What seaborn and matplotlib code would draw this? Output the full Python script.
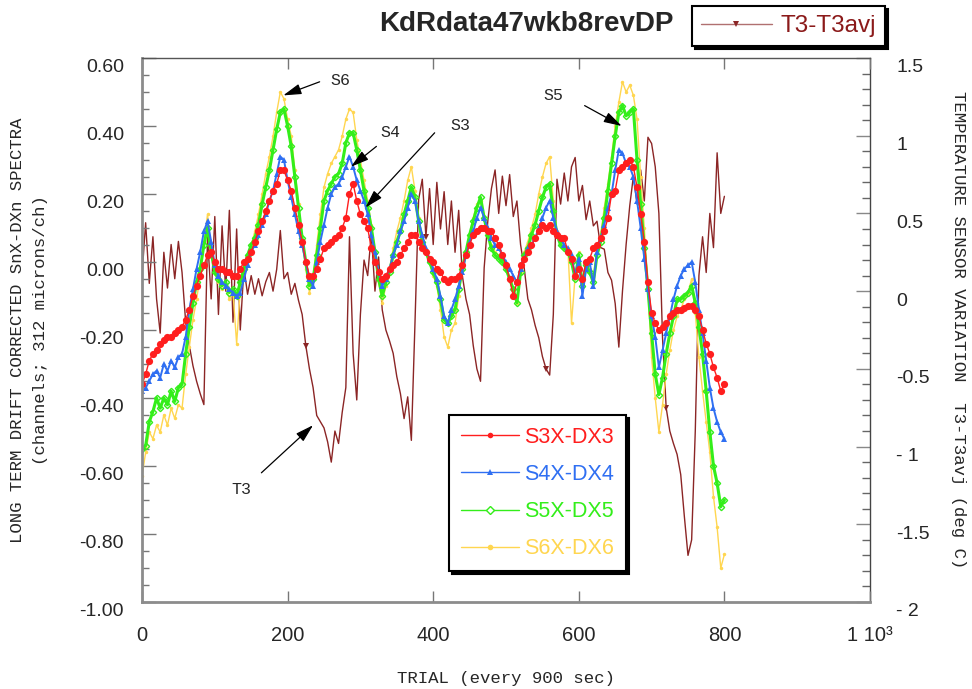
import numpy as np
import pandas as pd
import seaborn as sns
import matplotlib.pyplot as plt
from matplotlib.lines import Line2D
from matplotlib.ticker import MultipleLocator
from matplotlib.transforms import ScaledTranslation

# trial number (every 5th trial)
trial = np.arange(0, 805, 5)

# S3X-DX3 (left axis, channels)
s3 = [-0.36, -0.33, -0.29, -0.27, -0.26, -0.24, -0.23, -0.22, -0.22, -0.21,
      -0.20, -0.19, -0.17, -0.14, -0.10, -0.07, -0.04, -0.01, 0.02, 0.03,
      0.00, -0.02, -0.02, -0.03, -0.03, -0.04, -0.04, -0.02, 0.00, 0.01,
      0.03, 0.06, 0.09, 0.12, 0.15, 0.18, 0.21, 0.23, 0.27, 0.27,
      0.24, 0.21, 0.16, 0.11, 0.06, 0.00, -0.04, -0.04, -0.02, 0.01,
      0.04, 0.05, 0.06, 0.07, 0.08, 0.10, 0.13, 0.20, 0.23, 0.18,
      0.14, 0.12, 0.10, 0.04, 0.00, -0.03, -0.05, -0.04, -0.02, -0.01,
      0.00, 0.02, 0.04, 0.06, 0.08, 0.08, 0.06, 0.04, 0.03, 0.01,
      0.00, -0.02, -0.03, -0.05, -0.06, -0.05, -0.05, -0.04, -0.01, 0.02,
      0.05, 0.08, 0.09, 0.10, 0.10, 0.09, 0.09, 0.07, 0.05, 0.02,
      -0.01, -0.05, -0.10, -0.06, -0.01, 0.01, 0.03, 0.05, 0.07, 0.09,
      0.11, 0.10, 0.11, 0.09, 0.08, 0.07, 0.07, 0.03, 0.01, -0.04,
      -0.02, -0.05, 0.00, 0.01, 0.04, 0.05, 0.07, 0.09, 0.13, 0.20,
      0.21, 0.27, 0.28, 0.29, 0.30, 0.28, 0.22, 0.14, 0.06, -0.06,
      -0.15, -0.18, -0.20, -0.19, -0.18, -0.16, -0.15, -0.14, -0.14, -0.135,
      -0.13, -0.13, -0.14, -0.16, -0.20, -0.24, -0.27, -0.31, -0.34, -0.38,
      -0.36]

# S4X-DX4
s4 = [-0.38, -0.37, -0.35, -0.33, -0.32, -0.34, -0.30, -0.32, -0.29, -0.31,
      -0.28, -0.27, -0.22, -0.14, -0.08, -0.02, 0.03, 0.09, 0.12, 0.06,
      -0.01, -0.04, -0.06, -0.07, -0.08, -0.09, -0.10, -0.09, -0.05, -0.01,
      0.03, 0.05, 0.08, 0.11, 0.14, 0.18, 0.21, 0.26, 0.31, 0.30,
      0.24, 0.19, 0.14, 0.09, 0.05, 0.00, -0.05, -0.07, 0.00, 0.06,
      0.11, 0.16, 0.20, 0.22, 0.23, 0.25, 0.28, 0.31, 0.28, 0.24,
      0.21, 0.18, 0.14, 0.08, 0.03, -0.03, -0.07, -0.05, -0.02, 0.02,
      0.05, 0.09, 0.12, 0.16, 0.20, 0.18, 0.12, 0.08, 0.04, 0.01,
      -0.02, -0.05, -0.10, -0.16, -0.18, -0.14, -0.11, -0.07, -0.03, 0.02,
      0.06, 0.09, 0.13, 0.16, 0.13, 0.10, 0.07, 0.05, 0.04, 0.02,
      0.00, -0.02, -0.04, -0.06, -0.02, 0.01, 0.04, 0.05, 0.07, 0.10,
      0.13, 0.16, 0.18, 0.13, 0.09, 0.07, 0.05, 0.04, 0.02, -0.04,
      0.01, -0.10, -0.02, 0.00, -0.07, 0.03, 0.07, 0.11, 0.16, 0.20,
      0.27, 0.33, 0.32, 0.29, 0.28, 0.25, 0.18, 0.10, 0.01, -0.08,
      -0.16, -0.22, -0.31, -0.26, -0.21, -0.16, -0.11, -0.07, -0.04, -0.02,
      -0.01, 0.00, -0.06, -0.14, -0.21, -0.29, -0.37, -0.43, -0.47, -0.50,
      -0.52]

# S5X-DX5
s5 = [-0.55, -0.54, -0.47, -0.44, -0.40, -0.43, -0.40, -0.42, -0.38, -0.41,
      -0.37, -0.36, -0.27, -0.19, -0.12, -0.06, -0.02, 0.05, 0.10, 0.03,
      -0.03, -0.05, -0.07, -0.06, -0.09, -0.08, -0.10, -0.06, -0.02, 0.02,
      0.05, 0.07, 0.11, 0.17, 0.22, 0.27, 0.33, 0.39, 0.44, 0.45,
      0.40, 0.34, 0.25, 0.16, 0.07, 0.00, -0.07, -0.05, 0.02, 0.10,
      0.18, 0.21, 0.23, 0.25, 0.26, 0.29, 0.35, 0.38, 0.38, 0.33,
      0.27, 0.21, 0.16, 0.10, 0.03, -0.05, -0.10, -0.06, -0.03, 0.02,
      0.06, 0.09, 0.14, 0.18, 0.22, 0.19, 0.12, 0.06, 0.03, 0.00,
      -0.03, -0.06, -0.11, -0.17, -0.18, -0.16, -0.14, -0.08, -0.02, 0.03,
      0.08, 0.12, 0.16, 0.19, 0.13, 0.08, 0.04, 0.02, 0.01, 0.00,
      -0.02, -0.05, -0.08, -0.12, -0.03, 0.02, 0.04, 0.08, 0.11, 0.15,
      0.19, 0.22, 0.23, 0.15, 0.08, 0.05, 0.04, 0.03, 0.00, -0.05,
      0.02, -0.07, -0.01, -0.03, -0.06, 0.02, 0.06, 0.13, 0.21, 0.29,
      0.37, 0.44, 0.46, 0.43, 0.44, 0.45, 0.30, 0.17, 0.04, -0.08,
      -0.21, -0.33, -0.39, -0.34, -0.27, -0.21, -0.16, -0.11, -0.11, -0.10,
      -0.09, -0.07, -0.12, -0.19, -0.27, -0.38, -0.50, -0.60, -0.65, -0.72,
      -0.70]

# S6X-DX6
s6 = [-0.63, -0.56, -0.50, -0.52, -0.48, -0.50, -0.45, -0.48, -0.43, -0.46,
      -0.42, -0.43, -0.33, -0.25, -0.17, -0.11, -0.04, 0.06, 0.14, 0.04,
      -0.03, -0.06, -0.08, -0.07, -0.11, -0.09, -0.24, -0.08, -0.02, 0.02,
      0.05, 0.09, 0.14, 0.20, 0.26, 0.31, 0.37, 0.44, 0.50, 0.48,
      0.42, 0.37, 0.27, 0.17, 0.06, -0.02, -0.09, -0.05, 0.05, 0.14,
      0.22, 0.26, 0.29, 0.31, 0.33, 0.37, 0.42, 0.45, 0.44, 0.36,
      0.30, 0.24, 0.18, 0.11, 0.03, -0.06, -0.12, -0.07, -0.02, 0.04,
      0.09, 0.13, 0.18, 0.24, 0.28, 0.21, 0.13, 0.07, 0.03, 0.00,
      -0.04, -0.07, -0.14, -0.22, -0.25, -0.20, -0.18, -0.10, -0.02, 0.03,
      0.08, 0.13, 0.17, 0.18, 0.13, 0.08, 0.05, 0.03, 0.02, 0.00,
      -0.02, -0.05, -0.08, -0.12, -0.03, 0.03, 0.06, 0.10, 0.14, 0.20,
      0.25, 0.29, 0.31, 0.18, 0.09, 0.06, 0.04, 0.04, -0.18, -0.04,
      0.03, -0.06, 0.00, -0.02, -0.05, 0.04, 0.08, 0.16, 0.23, 0.31,
      0.40, 0.47, 0.53, 0.50, 0.52, 0.49, 0.42, 0.25, 0.10, -0.08,
      -0.28, -0.40, -0.50, -0.42, -0.33, -0.26, -0.20, -0.16, -0.14, -0.11,
      -0.09, -0.05, -0.15, -0.28, -0.38, -0.47, -0.56, -0.69, -0.78, -0.90,
      -0.86]

# T3-T3avj (right axis, deg C)
t3 = [0.10, 0.44, 0.05, 0.35, -0.05, -0.27, 0.25, 0.02, 0.30, 0.08,
      0.32, 0.12, -0.20, -0.35, -0.48, -0.58, -0.66, -0.73, 0.35, -0.05,
      0.48, -0.15, 0.42, 0.00, 0.52, -0.20, 0.40, -0.25, 0.15, -0.02,
      0.10, -0.02, 0.08, -0.03, 0.06, 0.12, 0.00, 0.14, 0.39, 0.08,
      0.12, -0.02, 0.05, -0.06, -0.15, -0.35, -0.50, -0.62, -0.80, -0.84,
      -0.88, -0.97, -1.10, -0.90, -0.98, -0.78, -0.62, 0.35, -0.40, -0.70,
      -0.15, 0.20, 0.10, 0.37, 0.00, 0.22, -0.12, -0.25, -0.32, -0.40,
      -0.55, -0.66, -0.82, -0.68, -0.96, -0.20, 0.59, 0.72, 0.35, 0.66,
      0.30, 0.70, 0.40, 0.64, 0.30, 0.58, 0.25, 0.52, 0.10, -0.05,
      -0.15, -0.35, -0.50, -0.58, 0.15, 0.45, 0.66, 0.78, 0.50, 0.74,
      0.55, 0.75, 0.48, 0.58, 0.30, 0.15, -0.05, -0.12, -0.22, -0.30,
      -0.42, -0.50, -0.54, -0.15, 0.72, 0.56, 0.76, 0.58, 0.80, 0.86,
      0.58, 0.68, 0.46, 0.58, 0.42, 0.45, 0.28, 0.27, 0.12, 0.07,
      -0.08, -0.36, 0.00, 0.30, 0.55, 0.74, 0.56, 0.78, 0.58, 0.99,
      0.95, 0.80, 0.50, -0.30, -0.75, -0.90, -0.98, -1.05, -1.18, -1.45,
      -1.70, -1.60, -0.90, 0.10, 0.35, 0.12, 0.50, 0.28, 0.89, 0.50,
      0.61]

series_names = ['S3X-DX3', 'S4X-DX4', 'S5X-DX5', 'S6X-DX6']
t3_name = 'T3-T3avj'

df = pd.DataFrame({'trial': trial, 'S3X-DX3': s3, 'S4X-DX4': s4,
                   'S5X-DX5': s5, 'S6X-DX6': s6, 'T3-T3avj': t3})

c3, c4, c5, c6, ct = '#ff1e1e', '#2f6ff2', '#33ee1a', '#ffd650', '#8b2525'

sns.set_style('ticks')
plt.rcParams['font.family'] = ['Liberation Sans', 'DejaVu Sans']
mono = ['Liberation Mono', 'DejaVu Sans Mono']

fig = plt.figure(figsize=(9.72, 6.89), dpi=100)
ax = fig.add_axes([142 / 972, 1 - 602 / 689, 728 / 972, 544 / 689])
ax2 = ax.twinx()
ax.set_zorder(ax2.get_zorder() + 1)
ax.patch.set_visible(False)

# temperature on the right axis (behind)
sns.lineplot(data=df, x='trial', y='T3-T3avj', ax=ax2, color=ct, lw=1.0,
             marker='v', markersize=4, markevery=(12, 33),
             markeredgecolor=ct, markeredgewidth=0)

# drift series on the left axis
sns.lineplot(data=df, x='trial', y='S6X-DX6', ax=ax, color=c6, lw=1.0,
             marker='o', markersize=2.5, markeredgewidth=0)
sns.lineplot(data=df, x='trial', y='S5X-DX5', ax=ax, color=c5, lw=2.2,
             marker='D', markersize=3.2, markerfacecolor='none',
             markeredgecolor=c5, markeredgewidth=1)
sns.lineplot(data=df, x='trial', y='S4X-DX4', ax=ax, color=c4, lw=1.4,
             marker='^', markersize=4.4, markeredgewidth=0)
sns.lineplot(data=df, x='trial', y='S3X-DX3', ax=ax, color=c3, lw=1.0,
             marker='o', markersize=5.2, markeredgewidth=0)

ax.set_xlim(0, 1000)
ax.set_ylim(-1.0, 0.6)
ax2.set_ylim(-2.0, 1.5)

ax.set_xticks([0, 200, 400, 600, 800, 1000])
ax.set_xticklabels(['0', '200', '400', '600', '800', '1 10³'], fontsize=14.5,
                   family=['Liberation Sans Narrow', 'Liberation Sans'])
ax.set_yticks([0.6, 0.4, 0.2, 0.0, -0.2, -0.4, -0.6, -0.8, -1.0])
ax.set_yticklabels(['0.60', '0.40', '0.20', '0.00', '-0.20', '-0.40', '-0.60',
                    '-0.80', '-1.00'], fontsize=14)
ax.yaxis.set_minor_locator(MultipleLocator(0.05))
ax2.set_yticks([1.5, 1.0, 0.5, 0.0, -0.5, -1.0, -1.5, -2.0])
ax2.set_yticklabels(['1.5', '1', '0.5', '0', '-0.5', '- 1', '-1.5', '- 2'],
                    fontsize=14)
ax2.yaxis.set_minor_locator(MultipleLocator(0.1))

ax.tick_params(axis='x', which='major', direction='in', top=True, bottom=True,
               length=8, width=1, color='#777777', pad=17)
ax.tick_params(axis='y', which='major', direction='in', left=True, right=False,
               length=10, width=1, color='#777777', pad=13)
ax.tick_params(axis='y', which='minor', direction='in', left=True, right=False,
               length=5, width=1, color='#777777')
ax2.tick_params(axis='y', which='major', direction='in', length=10, width=1,
                color='#888888', pad=19)
ax2.tick_params(axis='y', which='minor', direction='in', length=6, width=1,
                color='#666666')

# labels sit a little below their ticks in the original
down = ScaledTranslation(0, -8 / 100, fig.dpi_scale_trans)
for lab in ax.get_yticklabels() + ax2.get_yticklabels():
    lab.set_transform(lab.get_transform() + down)

ax.set_xlabel('')
ax.set_ylabel('')
ax2.set_ylabel('')

for side in ['left', 'bottom']:
    ax.spines[side].set_color('#8c8c8c')
    ax.spines[side].set_linewidth(2)
ax.spines['top'].set_color('#555555')
ax.spines['top'].set_linewidth(1)
ax.spines['right'].set_visible(False)
for side in ['left', 'bottom', 'top']:
    ax2.spines[side].set_visible(False)
ax2.spines['right'].set_color('#444444')
ax2.spines['right'].set_linewidth(1)

# axis titles
fig.text(18 / 972, 1 - 330 / 689, 'LONG TERM DRIFT CORRECTED SnX-DXn SPECTRA',
         rotation=90, ha='center', va='center', family=mono, fontsize=12.5)
fig.text(41 / 972, 1 - 330 / 689, '(channels; 312 microns/ch)',
         rotation=90, ha='center', va='center', family=mono, fontsize=12.5)
fig.text(958 / 972, 1 - 330 / 689,
         'TEMPERATURE SENSOR VARIATION  T3-T3avj (deg C)',
         rotation=-90, ha='center', va='center', family=mono, fontsize=12.5)
fig.text(506 / 972, 1 - 679 / 689, 'TRIAL (every 900 sec)',
         ha='center', va='center', family=mono, fontsize=12.5)
fig.text(526 / 972, 1 - 24 / 689, 'KdRdata47wkb8revDP', ha='center',
         va='center', fontsize=20, fontweight='bold')

# arrows and notes
arrow = dict(arrowstyle='-|>,head_length=1.1,head_width=0.32', color='black',
             lw=0.9, shrinkA=0, shrinkB=0)
notes = [('S6', (272, 0.535), (244, 0.53), (194, 0.49)),
         ('S4', (341, 0.38), (322, 0.34), (287, 0.28)),
         ('S3', (437, 0.40), (402, 0.38), (307, 0.16)),
         ('S5', (565, 0.49), (608, 0.46), (659, 0.40)),
         ('T3', (137, -0.67), (164, -0.62), (235, -0.48))]
for txt, pos, tail, head in notes:
    ax.text(pos[0], pos[1], txt, ha='center', va='center', family=mono,
            fontsize=12)
    ax.annotate('', xy=head, xytext=tail, arrowprops=arrow)

# legends
handles = [Line2D([], [], color=c3, lw=1, marker='o', ms=4, mew=0),
           Line2D([], [], color=c4, lw=1, marker='^', ms=4, mew=0),
           Line2D([], [], color=c5, lw=1, marker='D', ms=4, mfc='white',
                  mec=c5, mew=1),
           Line2D([], [], color=c6, lw=1, marker='o', ms=4, mew=0)]
leg = ax.legend(handles, series_names, loc='upper left',
                bbox_to_anchor=(0.4217, 0.3438), borderaxespad=0,
                fontsize=15.5, labelcolor=[c3, c4, c5, c6], frameon=True,
                fancybox=False, edgecolor='black', framealpha=1,
                shadow={'color': 'black', 'alpha': 1}, borderpad=0.55,
                labelspacing=0.75, handlelength=2.7, handletextpad=0.25)
leg.get_frame().set_linewidth(1.5)

t3_handle = Line2D([], [], color='#b07070', lw=1, marker='v', ms=4,
                   mfc=ct, mec=ct, mew=0)
leg2 = fig.legend([t3_handle], [t3_name], loc='upper left',
                  bbox_to_anchor=(692 / 972, 1 - 6 / 689), borderaxespad=0,
                  fontsize=17.5, labelcolor='#8b1a1a', frameon=True,
                  fancybox=False, edgecolor='black', framealpha=1,
                  shadow={'color': 'black', 'alpha': 1}, borderpad=0.38,
                  handlelength=2.9, handletextpad=0.35)
leg2.get_frame().set_linewidth(1.5)

fig.savefig('out.png', dpi=100)
